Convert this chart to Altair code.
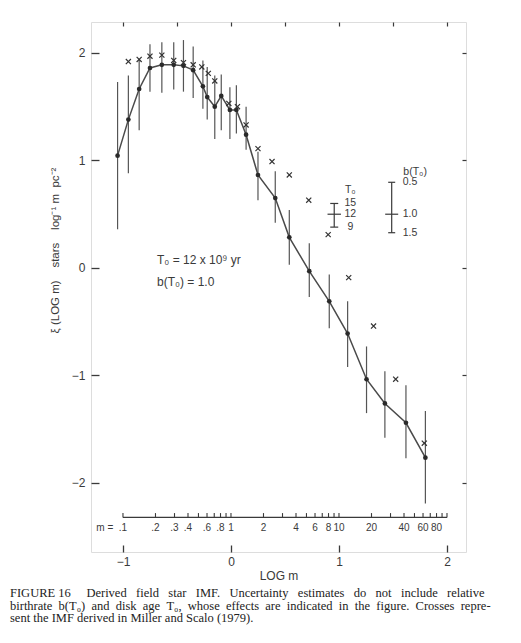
import altair as alt
import numpy as np
import pandas as pd

# Derived IMF: log m, xi, lower and upper error-bar ends
logm = [-1.05, -0.95, -0.85, -0.75, -0.64, -0.53, -0.44, -0.35, -0.26, -0.22, -0.15, -0.09, -0.01,
        0.05, 0.14, 0.25, 0.41, 0.54, 0.725, 0.91, 1.08, 1.255, 1.425, 1.62, 1.80]
xi = [1.045, 1.38, 1.665, 1.86, 1.89, 1.89, 1.88, 1.84, 1.69, 1.59, 1.50, 1.60, 1.47,
      1.47, 1.24, 0.865, 0.65, 0.285, -0.03, -0.31, -0.61, -1.035, -1.26, -1.44, -1.765]
xi_lo = [0.36, 0.88, 1.28, 1.64, 1.63, 1.66, 1.64, 1.58, 1.48, 1.38, 1.20, 1.28, 1.20,
         1.25, 1.10, 0.63, 0.42, 0.03, -0.27, -0.56, -0.92, -1.35, -1.58, -1.77, -2.19]
xi_hi = [1.73, 1.79, 1.94, 2.08, 2.10, 2.10, 2.12, 2.06, 1.93, 1.87, 1.79, 1.80, 1.68,
         1.70, 1.50, 1.08, 0.90, 0.54, 0.23, -0.06, -0.31, -0.73, -0.96, -1.09, -1.33]

# Miller & Scalo (1979) crosses
ms_logm = [-0.95, -0.85, -0.75, -0.64, -0.53, -0.44, -0.35, -0.27, -0.21, -0.15, -0.02, 0.06,
           0.14, 0.25, 0.38, 0.54, 0.72, 0.90, 1.09, 1.32, 1.525, 1.79]
ms_xi = [1.92, 1.94, 1.97, 1.98, 1.93, 1.91, 1.89, 1.87, 1.81, 1.74, 1.53, 1.50,
         1.33, 1.11, 0.99, 0.865, 0.63, 0.31, -0.09, -0.54, -1.035, -1.63]

# mass scale (m) ticks and labels
m_ticks = [0.1, 0.2, 0.3, 0.4, 0.5, 0.6, 0.7, 0.8, 0.9, 1, 2, 3, 4, 5, 6, 7, 8, 9,
           10, 20, 30, 40, 50, 60, 70, 80, 90, 100]
m_label_vals = [0.1, 0.2, 0.3, 0.4, 0.6, 0.8, 1, 2, 4, 6, 8, 10, 20, 40, 60, 80]
m_labels = [".1", ".2", ".3", ".4", ".6", ".8", "1", "2", "4", "6", "8", "10", "20", "40", "60", "80"]

# uncertainty legends
t0_labels = ["15", "12", "9"]
t0_vals = [0.60, 0.50, 0.38]
b_labels = ["0.5", "1.0", "1.5"]
b_vals = [0.797, 0.50, 0.328]

NB = "\u00a0"
caption_words = [
    ["FIGURE" + NB + "16" + NB * 2, "Derived", "field", "star", "IMF.", "Uncertainty", "estimates",
     "do", "not", "include", "relative"],
    ["birthrate", "b(T\u2080)", "and", "disk", "age", "T\u2080,", "whose", "effects", "are",
     "indicated", "in", "the", "figure.", "Crosses", "repre-"],
    ["sent", "the", "IMF", "derived", "in", "Miller", "and", "Scalo", "(1979)."],
]
caption_gaps = [3, 2, 1]
caption = [(NB * g).join(w) for w, g in zip(caption_words, caption_gaps)]

INK = "#3a3a3a"
FONT = "Liberation Sans"

X = alt.Scale(domain=[-1.296, 2.176], nice=False, zero=False)
Y = alt.Scale(domain=[-2.642, 2.288], nice=False, zero=False)

df = pd.DataFrame({"logm": logm, "xi": xi, "lo": xi_lo, "hi": xi_hi, "i": range(len(logm))})
ms = pd.DataFrame({"logm": ms_logm, "xi": ms_xi})

bottom_axis = alt.Axis(orient="bottom", values=[-1, -0.5, 0, 0.5, 1, 1.5, 2], tickSize=7, offset=-7,
                       domain=False, grid=False,
                       labelExpr="datum.value == floor(datum.value) ? datum.label : ''",
                       format="d", labelPadding=4, title="LOG m", titlePadding=3,
                       labelFontSize=12, titleFontSize=12, labelFont=FONT, titleFont=FONT,
                       labelColor=INK, titleColor=INK, titleFontWeight="normal",
                       tickColor=INK, tickWidth=1.3)
left_axis = alt.Axis(orient="left", values=[-2, -1, 0, 1, 2], tickSize=8, offset=-8, domain=False,
                     grid=False, format="d", labelPadding=6, labelFontSize=12, labelFont=FONT,
                     labelColor=INK,
                     title="\u03be" + NB + "(LOG" + NB + "m)" + NB * 4 + "stars" + NB * 4
                           + "log\u207b\u00b9" + NB + "m" + NB * 2 + "pc\u207b\u00b2",
                     titleFont=FONT, titleFontSize=11.5, titleFontWeight="normal", titleColor=INK,
                     titleX=-44, titleY=228, titleAngle=270, titleAlign="center",
                     titleBaseline="middle", tickColor=INK, tickWidth=1.3)
top_axis = alt.Axis(orient="top", values=[-1, -0.5, 0, 0.5, 1, 1.5, 2], tickSize=4, offset=-4,
                    labels=False, domain=False, grid=False, title=None, tickColor=INK, tickWidth=1.2)
right_axis = alt.Axis(orient="right", values=[-2, -1, 0, 1, 2], tickSize=4, offset=-4,
                      labels=False, domain=False, grid=False, title=None, tickColor=INK, tickWidth=1.2)

errbars = alt.Chart(df).mark_rule(color="#555", strokeWidth=1.2).encode(
    x=alt.X("logm:Q", scale=X, axis=bottom_axis),
    y=alt.Y("lo:Q", scale=Y, axis=left_axis),
    y2="hi:Q",
)
line = alt.Chart(df).mark_line(color="#4a4a4a", strokeWidth=1.5).encode(
    x=alt.X("logm:Q", scale=X, axis=None),
    y=alt.Y("xi:Q", scale=Y, axis=None),
    order="i:Q",
)
dots = alt.Chart(df).mark_point(filled=True, shape="circle", size=22, color="#2a2a2a", opacity=1).encode(
    x=alt.X("logm:Q", scale=X, axis=None),
    y=alt.Y("xi:Q", scale=Y, axis=None),
)
crosses = alt.Chart(ms).mark_point(shape="M-1,-1L1,1M1,-1L-1,1", size=26, color="#333",
                                   strokeWidth=1.2, opacity=1).encode(
    x=alt.X("logm:Q", scale=X, axis=top_axis),
    y=alt.Y("xi:Q", scale=Y, axis=right_axis),
)

# inner mass scale
M_Y = -2.32
maxis_df = pd.DataFrame({"x": [np.log10(m_ticks[0])], "x2": [np.log10(m_ticks[-1])], "y": [M_Y]})
maxis = alt.Chart(maxis_df).mark_rule(color=INK, strokeWidth=1.3).encode(
    x=alt.X("x:Q", scale=X, axis=None), x2="x2:Q", y=alt.Y("y:Q", scale=Y, axis=None))
mt_df = pd.DataFrame({"x": np.log10(m_ticks), "y": M_Y, "y2": M_Y + 0.04})
mticks = alt.Chart(mt_df).mark_rule(color=INK, strokeWidth=1.1).encode(
    x=alt.X("x:Q", scale=X, axis=None), y=alt.Y("y:Q", scale=Y, axis=None), y2="y2:Q")
ml_df = pd.DataFrame({"x": np.log10(m_label_vals), "y": M_Y - 0.095, "t": m_labels})
mlabels = alt.Chart(ml_df).mark_text(font=FONT, fontSize=10, color=INK).encode(
    x=alt.X("x:Q", scale=X, axis=None), y=alt.Y("y:Q", scale=Y, axis=None), text="t:N")
meq = alt.Chart(pd.DataFrame({"x": [-1.09], "y": [M_Y - 0.095], "t": ["m ="]})).mark_text(
    font=FONT, fontSize=10, color=INK, align="right").encode(
    x=alt.X("x:Q", scale=X, axis=None), y=alt.Y("y:Q", scale=Y, axis=None), text="t:N")

# annotation
ann_df = pd.DataFrame({"x": [-0.685, -0.685], "y": [0.074, -0.127],
                       "t": ["T\u2080 = 12 x 10\u2079 yr", "b(T\u2080) = 1.0"]})
ann = alt.Chart(ann_df).mark_text(font=FONT, fontSize=12, color=INK, align="left").encode(
    x=alt.X("x:Q", scale=X, axis=None), y=alt.Y("y:Q", scale=Y, axis=None), text="t:N")

# T0 legend bar
T0_X = 0.956
t0_bar = alt.Chart(pd.DataFrame({"x": [T0_X], "y": [min(t0_vals)], "y2": [max(t0_vals)]})).mark_rule(
    color=INK, strokeWidth=1.2).encode(
    x=alt.X("x:Q", scale=X, axis=None), y=alt.Y("y:Q", scale=Y, axis=None), y2="y2:Q")
t0_caps = alt.Chart(pd.DataFrame({"x": [T0_X] * 3, "y": t0_vals, "s": [64, 180, 64]})).mark_point(
    shape="M-1,0L1,0", color=INK, strokeWidth=1.2, opacity=1).encode(
    x=alt.X("x:Q", scale=X, axis=None), y=alt.Y("y:Q", scale=Y, axis=None),
    size=alt.Size("s:Q", scale=None, legend=None))
t0_text = alt.Chart(pd.DataFrame({"x": [1.105] * 4, "y": [0.726] + t0_vals,
                                  "t": ["T\u2080"] + t0_labels})).mark_text(
    font=FONT, fontSize=10.5, color=INK).encode(
    x=alt.X("x:Q", scale=X, axis=None), y=alt.Y("y:Q", scale=Y, axis=None), text="t:N")

# b(T0) legend bar
B_X = 1.488
b_bar = alt.Chart(pd.DataFrame({"x": [B_X], "y": [min(b_vals)], "y2": [max(b_vals)]})).mark_rule(
    color=INK, strokeWidth=1.2).encode(
    x=alt.X("x:Q", scale=X, axis=None), y=alt.Y("y:Q", scale=Y, axis=None), y2="y2:Q")
b_caps = alt.Chart(pd.DataFrame({"x": [B_X] * 3, "y": b_vals, "s": [49, 169, 49]})).mark_point(
    shape="M-1,0L1,0", color=INK, strokeWidth=1.2, opacity=1).encode(
    x=alt.X("x:Q", scale=X, axis=None), y=alt.Y("y:Q", scale=Y, axis=None),
    size=alt.Size("s:Q", scale=None, legend=None))
b_text = alt.Chart(pd.DataFrame({"x": [1.59] * 3, "y": b_vals, "t": b_labels})).mark_text(
    font=FONT, fontSize=10.5, color=INK, align="left").encode(
    x=alt.X("x:Q", scale=X, axis=None), y=alt.Y("y:Q", scale=Y, axis=None), text="t:N")
b_head = alt.Chart(pd.DataFrame({"x": [1.705], "y": [0.896], "t": ["b(T\u2080)"]})).mark_text(
    font=FONT, fontSize=10.5, color=INK).encode(
    x=alt.X("x:Q", scale=X, axis=None), y=alt.Y("y:Q", scale=Y, axis=None), text="t:N")

chart = alt.layer(
    errbars, line, dots, crosses, maxis, mticks, mlabels, meq, ann,
    t0_bar, t0_caps, t0_text, b_bar, b_caps, b_text, b_head,
).resolve_axis(x="independent", y="independent").properties(
    width=375, height=530,
    autosize=alt.AutoSizeParams(type="none"),
    padding={"left": 83, "top": 14, "right": 40, "bottom": 82},
    title=alt.TitleParams(text=caption, orient="bottom", anchor="start", frame="group",
                          font="Liberation Serif", fontSize=12.5, fontWeight="normal",
                          color="#222", lineHeight=12.5, dx=-81, offset=6),
).configure_view(stroke="#333", strokeWidth=1.5).configure(background="white")

chart.save("out.html", embed_options={"renderer": "svg", "actions": False})
